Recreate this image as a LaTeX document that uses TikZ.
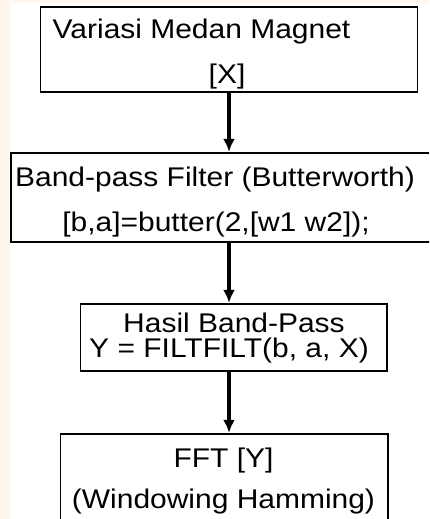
\documentclass[tikz,border=0pt]{standalone}
\usepackage{fontspec}
\setmainfont{Liberation Sans}
\usetikzlibrary{arrows.meta}
\definecolor{cream}{HTML}{FFF7EC}
\newcommand{\sxtext}[1]{\scalebox{1.11}[1]{#1}}
\tikzset{
  box/.style={draw=black, line width=1.4pt, fill=white, rectangle, inner sep=0pt},
  txt/.style={anchor=base, inner sep=0pt, font=\fontsize{27}{30}\selectfont},
  arr/.style={line width=3.6pt, -{Latex[length=13pt,width=12pt]}, shorten >=0.5pt}
}
\begin{document}
\begin{tikzpicture}[x=1pt,y=-1pt]
\useasboundingbox (0,0) rectangle (429,519);
\clip (0,0) rectangle (429,519);
\fill[cream] (0,0) rectangle (429,519);
\fill[white] (10,3) rectangle (429,519);
% boxes
\node[box, minimum width=377pt, minimum height=85pt] (b1) at (229,49.5) {};
\node[box, minimum width=429pt, minimum height=89pt] (b2) at (225.5,197.5) {};
\node[box, minimum width=306.5pt, minimum height=67pt] (b3) at (233.75,337.5) {};
\node[box, minimum width=327.5pt, minimum height=96pt] (b4) at (224.25,482) {};
% texts
\node[txt] (t1a) at (201.5,38) {\sxtext{Variasi Medan Magnet}};
\node[txt] (t1b) at (227,83) {\sxtext{[X]}};
\node[txt] (t2a) at (215,186) {\sxtext{Band-pass Filter (Butterworth)}};
\node[txt] (t2b) at (216,231) {\sxtext{[b,a]=butter(2,[w1 w2]);}};
\node[txt] (t3a) at (234,332) {\sxtext{Hasil Band-Pass}};
\node[txt] (t3b) at (229,357) {\sxtext{Y = FILTFILT(b, a, X)}};
\node[txt] (t4a) at (223.5,467) {\sxtext{FFT [Y]}};
\node[txt] (t4b) at (223.5,508) {\sxtext{(Windowing Hamming)}};
% arrows
\draw[arr] (b1.south) -- (b2.north -| b1.south);
\draw[arr] (b2.south -| b1.south) -- (b3.north -| b1.south);
\draw[arr] (b3.south -| b1.south) -- (b4.north -| b1.south);
\end{tikzpicture}
\end{document}
